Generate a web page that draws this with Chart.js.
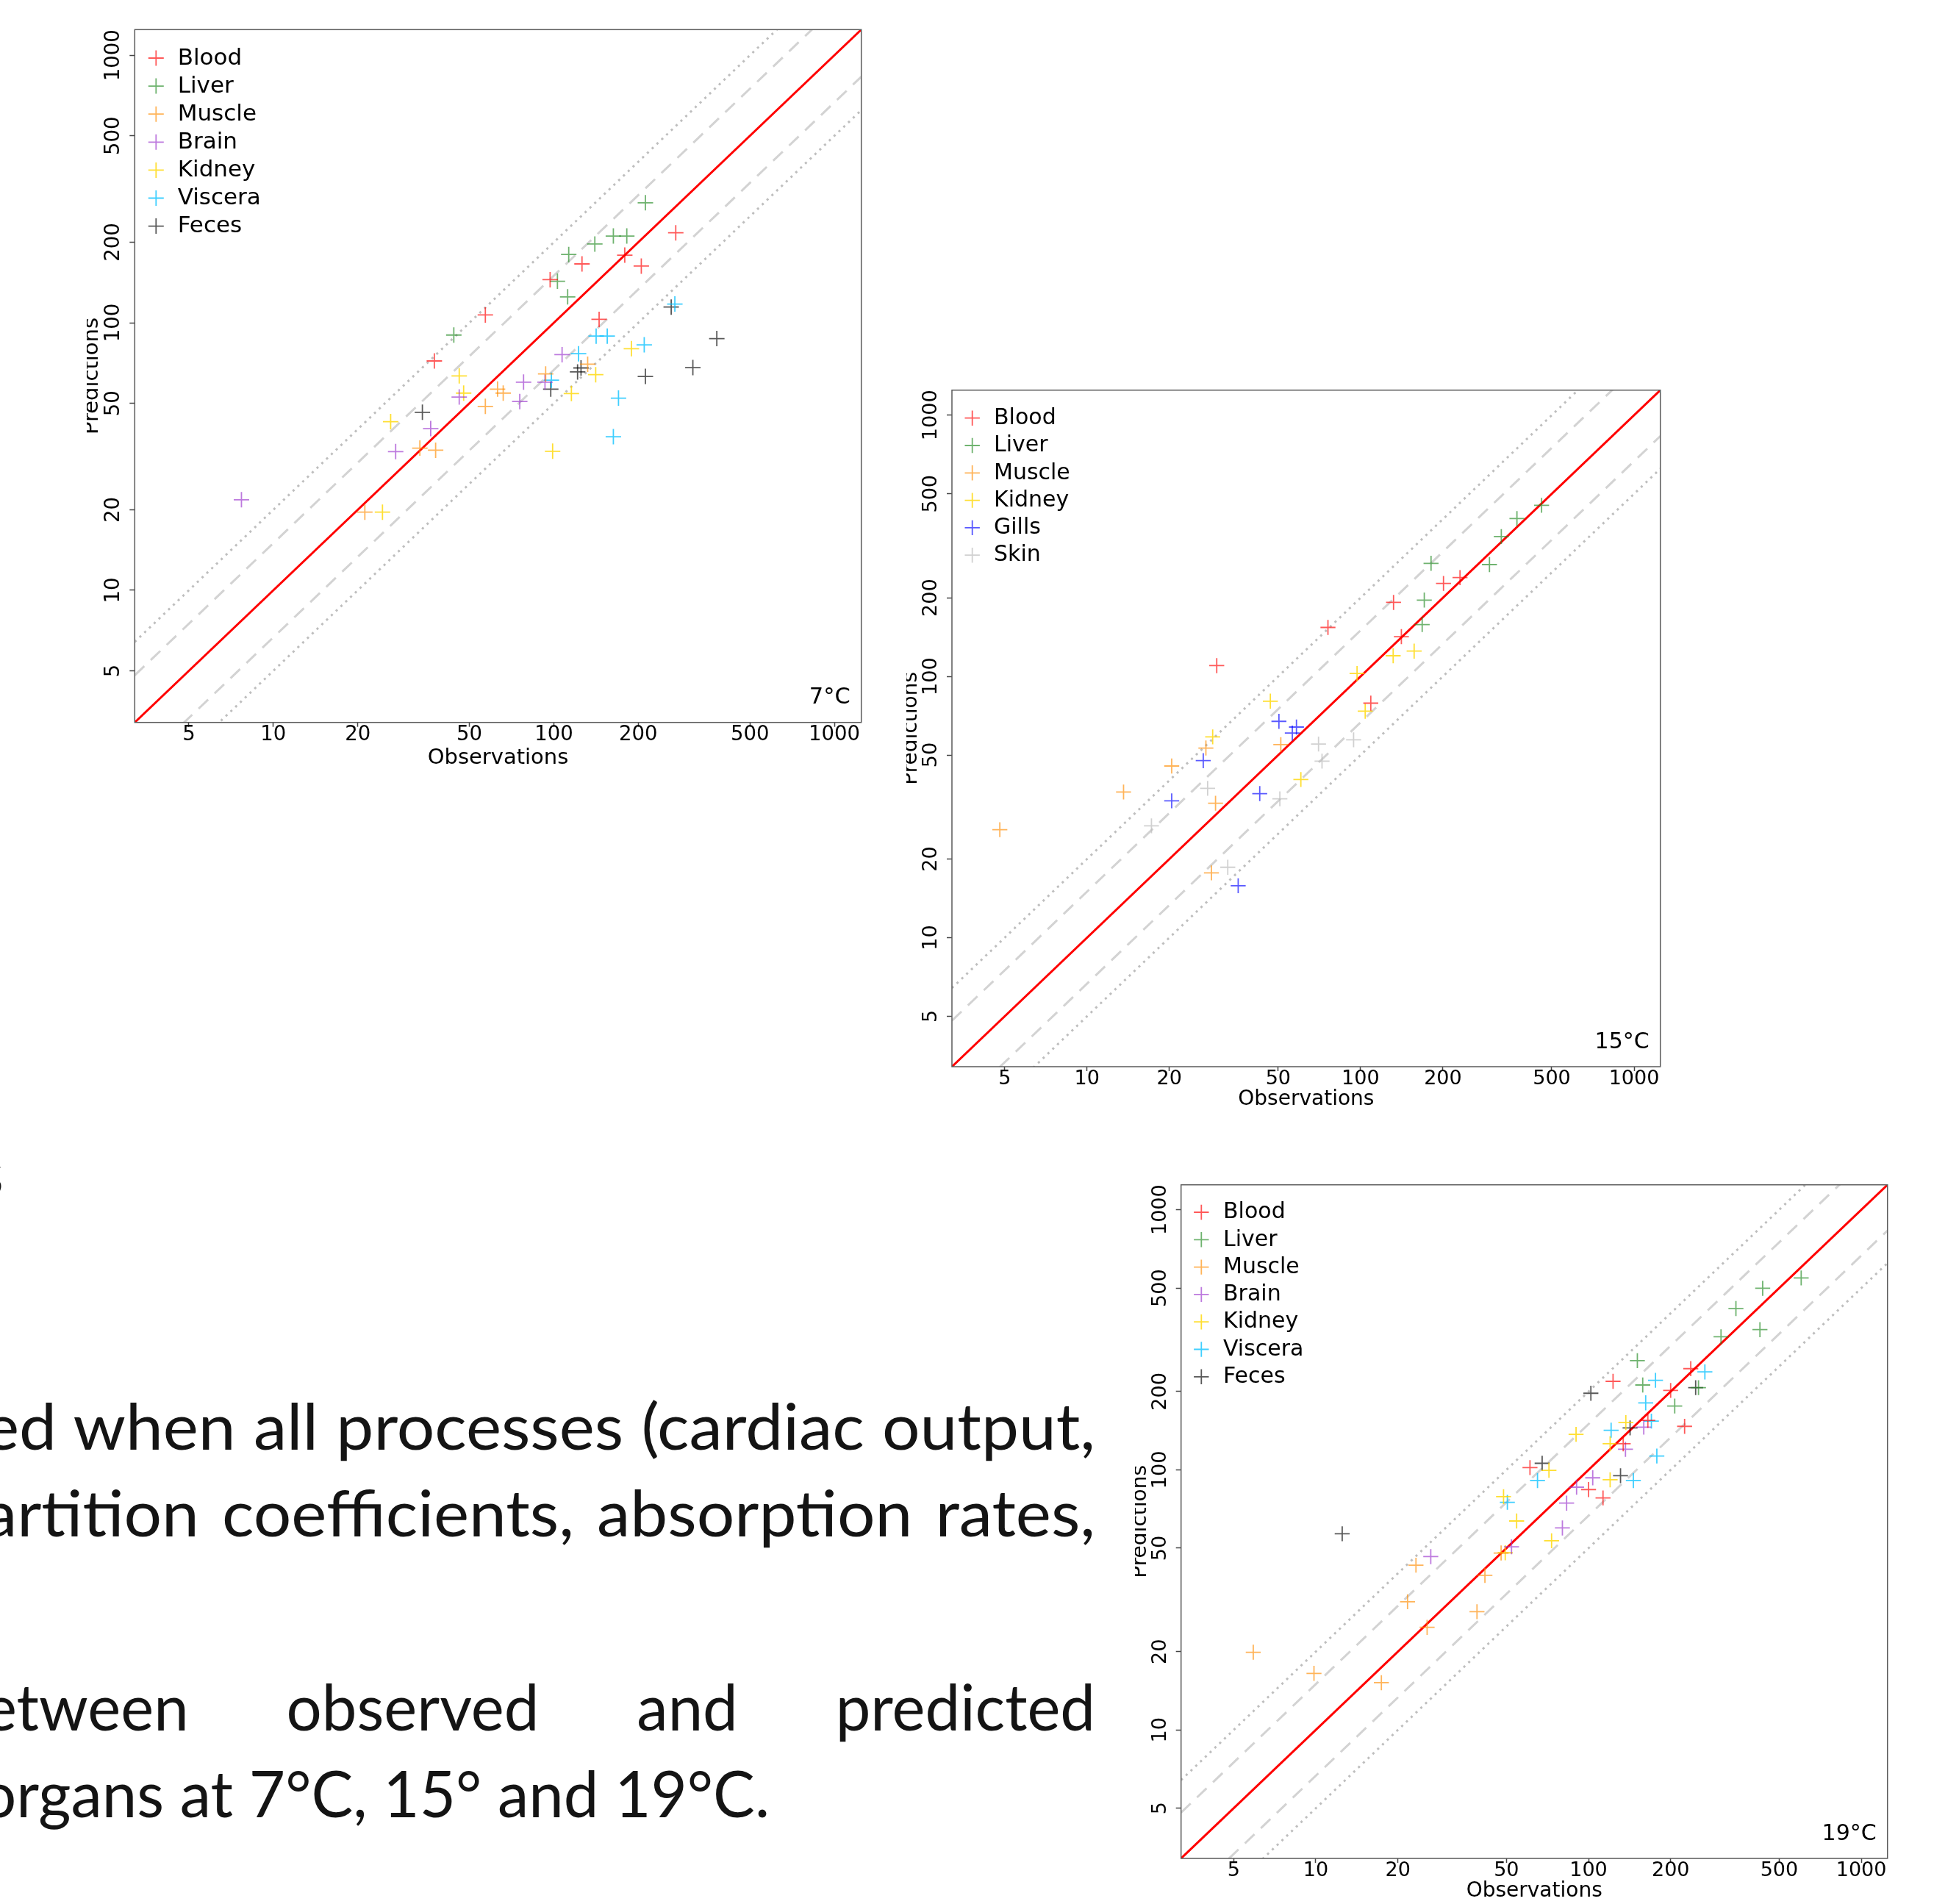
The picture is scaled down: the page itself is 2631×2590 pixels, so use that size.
<!DOCTYPE html>
<html>
<head>
<meta charset="utf-8">
<script src="https://cdn.jsdelivr.net/npm/chart.js@4.4.1/dist/chart.umd.min.js"></script>
<style>
html,body{margin:0;padding:0;background:#fff;}
body{width:2631px;height:2590px;position:relative;overflow:hidden;}
canvas{position:absolute;}
.txt{position:absolute;left:0;top:0;font-family:Lato,"Open Sans",sans-serif;font-size:88px;color:#141414;white-space:nowrap;transform-origin:0 0;line-height:1.2;}
.bl{display:inline-block;width:0;height:0;vertical-align:baseline;}
</style>
</head>
<body>
<canvas id="c7"></canvas>
<canvas id="c15"></canvas>
<canvas id="c19"></canvas>
<script>
// ---------------- DATA ----------------
const AXIS_TICKS = [5, 10, 20, 50, 100, 200, 500, 1000];
const AXIS_LIMITS = [4, 1000];            // R-style limits (extended by 4%)
const REF_FACTORS = [1, 1.5, 1 / 1.5, 2, 1 / 2];

const ORGANS_7C = ['Blood', 'Liver', 'Muscle', 'Brain', 'Kidney', 'Viscera', 'Feces'];
const BLOOD_7C   = [[37.5,72],[57,107],[97,145],[126,166],[145,103],[179,179],[205,163],[272,217]];
const LIVER_7C   = [[44,90],[103,143],[112,125],[113,180],[140,197],[163,211],[182,211],[212,281]];
const MUSCLE_7C  = [[21.2,19.6],[33.3,34],[37.9,33.4],[57,48.7],[63,56.5],[66,54.6],[93.5,64.4],[132,70]];
const BRAIN_7C   = [[7.7,21.8],[27.3,33],[36.4,40.2],[46,52.8],[75.6,50.8],[78,60],[93,60],[107,76]];
const KIDNEY_7C  = [[24.5,19.6],[26.2,42.7],[46,63.3],[47.7,54.6],[99,33.1],[115.5,54.4],[141,64],[189,80]];
const VISCERA_7C = [[98,61],[122.5,76.6],[141.5,89.2],[155,89.2],[163,37.5],[170,52.3],[210,82.7],[270,117.5]];
const FECES_7C   = [[34,46.3],[97.5,56.5],[121.5,65.5],[125,67.8],[212,63],[262,114.5],[313,68],[381,87.3]];

const ORGANS_15C = ['Blood', 'Liver', 'Muscle', 'Kidney', 'Gills', 'Skin'];
const BLOOD_15C  = [[29.8,110],[76,154],[109,79],[132,192],[141,142],[201,227],[231,239]];
const LIVER_15C  = [[168,158],[171,196],[181,271],[296,268],[327,343],[373,402],[459,452]];
const MUSCLE_15C = [[4.8,25.9],[13.6,36.1],[20.4,45.4],[27.2,53.2],[29.5,32.7],[28.5,17.7],[51.1,54.8]];
const KIDNEY_15C = [[28.8,58.7],[46.8,80.4],[60.5,40.3],[97.1,102.6],[104,73.6],[131.6,120],[157,125]];
const GILLS_15C  = [[20.4,33.4],[26.6,47.6],[35.7,15.8],[42.8,35.6],[50.3,67.3],[56.3,60.7],[58.3,64]];
const SKIN_15C   = [[17.2,26.8],[27.6,37.3],[32.7,18.6],[50.7,34],[70.2,55.1],[72.3,47.4],[94.3,57.2]];

const ORGANS_19C = ['Blood', 'Liver', 'Muscle', 'Brain', 'Kidney', 'Viscera', 'Feces'];
const BLOOD_19C   = [[61,102],[100,84],[113,78],[123,219],[134,126],[165,155],[200,202],[225,147],[237,245]];
const LIVER_19C   = [[151,263],[158,212],[207,176],[253,207],[306,325],[347,417],[425,346],[435,499],[602,547]];
const MUSCLE_19C  = [[5.9,19.9],[9.85,16.5],[17.4,15.2],[21.7,31.1],[23.3,43],[25.6,24.8],[39,28.5],[41.7,39.3],[47.8,47.9]];
const BRAIN_19C   = [[26.4,46.4],[52.2,50.6],[80.2,59.8],[83.1,74.5],[90.4,85.8],[103.6,93.2],[136.6,120],[159.4,145.9]];
const KIDNEY_19C  = [[48.8,78.9],[49.5,48],[54.5,63.6],[71.6,99.6],[73.2,53.4],[90,137],[120,91.6],[120,126],[137,152]];
const VISCERA_19C = [[50.4,75],[65,91],[121,142],[146,91],[162,181],[170,154],[176,221],[178,113],[267,238]];
const FECES_19C   = [[12.5,56.8],[67.6,106],[102,197],[131,95],[142,145],[247,207]];

const TEMP_LABELS = ['7°C', '15°C', '19°C'];
const X_TITLE = 'Observations';
const Y_TITLE = 'Predictions';

const TEXT_FRAGMENT = 's';
const TEXT_LINES = [
  'ed when all processes (cardiac output,',
  'artition coefficients, absorption rates,',
  'etween observed and predicted',
  'organs at 7°C, 15° and 19°C.'
];

// ---------------- STYLE ----------------
const ORGAN_COLORS = {
  Blood: 'rgba(255,0,0,0.65)',
  Liver: 'rgba(34,139,34,0.65)',
  Muscle: 'rgba(255,140,0,0.65)',
  Brain: 'rgba(153,50,204,0.65)',
  Kidney: 'rgba(255,215,0,0.8)',
  Viscera: 'rgba(0,191,255,0.75)',
  Feces: 'rgba(0,0,0,0.65)',
  Gills: 'rgba(0,0,255,0.65)',
  Skin: 'rgba(185,185,185,0.65)'
};
const REF_STYLES = [
  {color: '#FF0000', width: 3, dash: []},
  {color: '#D3D3D3', width: 3, dash: [18, 12]},
  {color: '#D3D3D3', width: 3, dash: [18, 12]},
  {color: '#BEBEBE', width: 3, dash: [3, 6]},
  {color: '#BEBEBE', width: 3, dash: [3, 6]}
];

const LAYOUTS = {
  c7:  {left: 118,  top: 0,    w: 1090, h: 1060, pad: {left: 0, top: 40.3, right: 36.3, bottom: 11.3},
        yAxisW: 65.3, xAxisH: 66,   tickFont: 27.5, titleFont: 29, yTitleLH: 14,
        legend: {size: 31, left: 29, top: 38.7, step: 38.1, text: 58.4, r: 10.5},
        temp: {size: 30.5, dx: 15, dy: 25.5}, pointR: 10.5},
  c15: {left: 1233, top: 480,  w: 1067, h: 1050, pad: {left: 0, top: 50.7, right: 41.3, bottom: 17.2},
        yAxisW: 62,   xAxisH: 61.8, tickFont: 27, titleFont: 28, yTitleLH: 12.6,
        legend: {size: 30, left: 27.7, top: 38, step: 37.3, text: 57, r: 10.2},
        temp: {size: 30, dx: 15, dy: 25}, pointR: 10.2},
  c19: {left: 1544, top: 1560, w: 1087, h: 1030, pad: {left: 0, top: 51.7, right: 63.3, bottom: 0.2},
        yAxisW: 62.7, xAxisH: 61.8, tickFont: 27, titleFont: 28, yTitleLH: 14.6,
        legend: {size: 30, left: 27.6, top: 37.3, step: 37.3, text: 57.3, r: 10.2},
        temp: {size: 30, dx: 15, dy: 24.7}, pointR: 10.2}
};

// ---------------- HELPERS ----------------
const FAMILY = 'DejaVu Sans';
function axisRange() {
  const lo = Math.log10(AXIS_LIMITS[0]), hi = Math.log10(AXIS_LIMITS[1]);
  const ext = (hi - lo) * 0.04;
  return [Math.pow(10, lo - ext), Math.pow(10, hi + ext)];
}
const [AMIN, AMAX] = axisRange();
const mctx = document.createElement('canvas').getContext('2d');
function textWidth(font, s) { mctx.font = font; return mctx.measureText(s).width; }

const framePlugin = {
  id: 'frame',
  afterDraw(chart, args, o) {
    const {ctx, chartArea: a} = chart;
    ctx.save();
    ctx.strokeStyle = o.color; ctx.lineWidth = o.width;
    ctx.strokeRect(a.left, a.top, a.right - a.left, a.bottom - a.top);
    ctx.restore();
  }
};
const crossLegendPlugin = {
  id: 'crossLegend',
  afterDraw(chart, args, o) {
    const {ctx, chartArea: a} = chart;
    const items = chart.data.datasets.filter(d => d.inLegend);
    ctx.save();
    ctx.font = o.size + 'px "' + FAMILY + '"';
    ctx.textAlign = 'left'; ctx.textBaseline = 'middle';
    items.forEach((d, i) => {
      const cx = a.left + o.left, cy = a.top + o.top + i * o.step;
      ctx.strokeStyle = d.borderColor; ctx.lineWidth = 1.8;
      ctx.beginPath();
      ctx.moveTo(cx - o.r, cy); ctx.lineTo(cx + o.r, cy);
      ctx.moveTo(cx, cy - o.r); ctx.lineTo(cx, cy + o.r);
      ctx.stroke();
      ctx.fillStyle = '#000';
      ctx.fillText(d.label, a.left + o.text, cy + 0.5);
    });
    ctx.restore();
  }
};
const tempLabelPlugin = {
  id: 'tempLabel',
  afterDraw(chart, args, o) {
    const {ctx, chartArea: a} = chart;
    ctx.save();
    ctx.font = o.size + 'px "' + FAMILY + '"';
    ctx.fillStyle = '#000'; ctx.textAlign = 'right'; ctx.textBaseline = 'alphabetic';
    ctx.fillText(o.text, a.right - o.dx, a.bottom - o.dy);
    ctx.restore();
  }
};

function buildChart(id, organs, series, tempText) {
  const L = LAYOUTS[id];
  const cv = document.getElementById(id);
  cv.width = L.w; cv.height = L.h;
  cv.style.left = L.left + 'px'; cv.style.top = L.top + 'px';
  cv.style.width = L.w + 'px'; cv.style.height = L.h + 'px';

  const tickFontStr = L.tickFont + 'px ' + FAMILY;
  const widest = Math.max(...AXIS_TICKS.map(v => textWidth(tickFontStr, String(v))));
  const yTickLen = 7, xTickLen = 6;
  const yPad = 28 - yTickLen - widest / 2;

  const refSets = REF_FACTORS.map((f, i) => ({
    type: 'line', label: 'ref' + i,
    data: [{x: AMIN, y: AMIN * f}, {x: AMAX, y: AMAX * f}],
    borderColor: REF_STYLES[i].color, borderWidth: REF_STYLES[i].width, borderDash: REF_STYLES[i].dash,
    pointRadius: 0, pointHoverRadius: 0, fill: false, tension: 0, order: 10 - i, inLegend: false
  }));
  const ptSets = organs.map((name, i) => ({
    type: 'scatter', label: name,
    data: series[i].map(p => ({x: p[0], y: p[1]})),
    pointStyle: 'cross', pointRadius: L.pointR, pointHoverRadius: L.pointR,
    pointBorderWidth: 1.8, pointBorderColor: ORGAN_COLORS[name], pointBackgroundColor: ORGAN_COLORS[name],
    borderColor: ORGAN_COLORS[name], backgroundColor: ORGAN_COLORS[name],
    showLine: false, order: 0, inLegend: true
  }));

  const setTicks = s => { s.ticks = AXIS_TICKS.map(v => ({value: v})); };
  const gridCfg = tl => ({display: true, drawOnChartArea: false, drawTicks: true, tickLength: tl, tickWidth: 1.5, tickColor: '#444'});

  return new Chart(cv, {
    type: 'scatter',
    data: {datasets: [...refSets, ...ptSets]},
    plugins: [framePlugin, crossLegendPlugin, tempLabelPlugin],
    options: {
      responsive: false, animation: false, devicePixelRatio: 1, events: [],
      layout: {padding: L.pad},
      plugins: {
        legend: {display: false}, tooltip: {enabled: false},
        frame: {color: '#5a5a5a', width: 1.5},
        crossLegend: L.legend,
        tempLabel: {text: tempText, size: L.temp.size, dx: L.temp.dx, dy: L.temp.dy}
      },
      scales: {
        x: {
          type: 'logarithmic', position: 'bottom', min: AMIN, max: AMAX, bounds: 'data',
          afterBuildTicks: setTicks,
          afterFit: s => { s.height = L.xAxisH; },
          ticks: {autoSkip: false, minRotation: 0, maxRotation: 0, padding: 0.6 - xTickLen, color: '#000',
                  font: {family: FAMILY, size: L.tickFont}, callback: v => String(v)},
          grid: gridCfg(xTickLen),
          border: {display: false},
          title: {display: true, text: X_TITLE, color: '#000', padding: 0,
                  font: {family: FAMILY, size: L.titleFont, lineHeight: 1.2}}
        },
        y: {
          type: 'logarithmic', position: 'left', min: AMIN, max: AMAX, bounds: 'data',
          afterBuildTicks: setTicks,
          afterFit: s => { s.width = L.yAxisW; },
          ticks: {autoSkip: false, minRotation: 90, maxRotation: 90, crossAlign: 'center', padding: yPad,
                  color: '#000', font: {family: FAMILY, size: L.tickFont}, callback: v => String(v)},
          grid: gridCfg(yTickLen),
          border: {display: false},
          title: {display: true, text: Y_TITLE, color: '#000', padding: 0,
                  font: {family: FAMILY, size: L.titleFont, lineHeight: L.yTitleLH + 'px'}}
        }
      }
    }
  });
}

buildChart('c7', ORGANS_7C, [BLOOD_7C, LIVER_7C, MUSCLE_7C, BRAIN_7C, KIDNEY_7C, VISCERA_7C, FECES_7C], TEMP_LABELS[0]);
buildChart('c15', ORGANS_15C, [BLOOD_15C, LIVER_15C, MUSCLE_15C, KIDNEY_15C, GILLS_15C, SKIN_15C], TEMP_LABELS[1]);
buildChart('c19', ORGANS_19C, [BLOOD_19C, LIVER_19C, MUSCLE_19C, BRAIN_19C, KIDNEY_19C, VISCERA_19C, FECES_19C], TEMP_LABELS[2]);

// ---------------- SLIDE TEXT ----------------
function placeText() {
  const spec = [
    {baseline: 1972,   left: -22, right: 1490, justify: true, maxStretch: 1.07},
    {baseline: 2089.5, left: -22, right: 1490, justify: true, maxStretch: 1.07},
    {baseline: 2354,   left: -22, right: 1490, justify: true, maxStretch: 1.0},
    {baseline: 2472,   left: -26, right: 1047, justify: false, maxStretch: 1.0}
  ];
  const mk = txt => {
    const d = document.createElement('div');
    d.className = 'txt';
    const m = document.createElement('span'); m.className = 'bl';
    d.appendChild(m); d.appendChild(document.createTextNode(txt));
    document.body.appendChild(d);
    return d;
  };
  const divs = TEXT_LINES.map(mk);
  const frag = mk(TEXT_FRAGMENT);
  const w4 = divs[3].getBoundingClientRect().width;
  const base = (spec[3].right - spec[3].left) / w4;
  const place = (d, left, baseline, sc) => {
    const off = d.querySelector('.bl').getBoundingClientRect().top - d.getBoundingClientRect().top;
    d.style.left = left + 'px';
    d.style.top = (baseline - off) + 'px';
    d.style.transform = 'scaleX(' + sc + ')';
  };
  divs.forEach((d, i) => {
    const s = spec[i];
    let sc = base;
    if (s.justify) {
      const n = (TEXT_LINES[i].match(/ /g) || []).length;
      const w = d.getBoundingClientRect().width;
      const span = s.right - s.left;
      sc = Math.min(Math.max(span / w, base * 0.97), base * s.maxStretch);
      const target = span / sc;
      d.style.wordSpacing = ((target - w) / n) + 'px';
    }
    place(d, s.left, s.baseline, sc);
  });
  const fw = frag.getBoundingClientRect().width;
  place(frag, 5 - fw * base, 1627, base);
}
placeText();
</script>
</body>
</html>
